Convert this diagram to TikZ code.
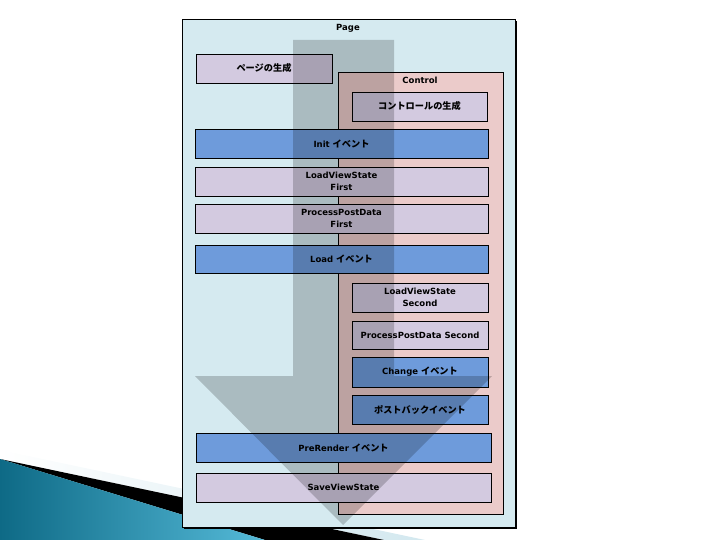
\documentclass[tikz,border=0pt]{standalone}
\usepackage{fontspec}
\setmainfont{DejaVu Sans}
\newfontfamily\jp{Noto Sans CJK JP}[Scale=1.08]
\usetikzlibrary{shadows}
\definecolor{pagebg}{HTML}{D5EAF0}
\definecolor{ctrlbg}{HTML}{EBCBCA}
\definecolor{lav}{HTML}{D3CAE0}
\definecolor{evblue}{HTML}{6E9BDB}
\definecolor{tealL}{HTML}{0E6A86}
\definecolor{tealR}{HTML}{55BAD8}
\definecolor{pale}{HTML}{D3E8EF}
\begin{document}
\begin{tikzpicture}[x=1pt,y=-1pt,
  txt/.style={font=\fontsize{8.5}{11.5}\selectfont\bfseries, text=black},
  boxbase/.style={draw=black, line width=0.9pt, inner sep=0pt, minimum height=29pt,
    align=center, txt,
    drop shadow={shadow xshift=1pt, shadow yshift=-1pt, opacity=1, fill=black}},
  lavbox/.style={boxbase, fill=lav},
  bluebox/.style={boxbase, fill=evblue},
  container/.style={draw=black, line width=0.8pt, inner sep=0pt},
  flow/.style={fill=black, fill opacity=0.2},
]
\useasboundingbox (0,0) rectangle (720,540);
% decoration
\shade[left color=white, right color=pale] (0,450) -- (425,540) -- (384,540) -- (0,459) -- cycle;
\fill[black] (0,459) -- (384,540) -- (265,540) -- cycle;
\shade[left color=tealL, right color=tealR] (0,459) -- (265,540) -- (0,540) -- cycle;
% page
\node[container, fill=pagebg, minimum width=333pt, minimum height=508pt,
  drop shadow={shadow xshift=1.8pt, shadow yshift=-1.8pt, opacity=1, fill=black}]
  (page) at (348.5,273) {};
\node[txt] (pagelbl) at (348,28) {Page};
\node[container, fill=ctrlbg, minimum width=165pt, minimum height=442pt,
  drop shadow={shadow xshift=1pt, shadow yshift=-1pt, opacity=1, fill=black}]
  (ctrl) at (420.5,293) {};
\node[txt] (ctrllbl) at (420,80) {Control};
% steps
\node[lavbox, minimum width=136pt] (pagegen) at (264,68.5) {{\jp ページの生成}};
\node[lavbox, minimum width=135pt] (ctrlgen) at (419.5,106.5) {{\jp コントロールの生成}};
\node[bluebox, minimum width=293pt] (init) at (341.5,143.5) {Init {\jp イベント}};
\node[lavbox, minimum width=293pt] (lvs1) at (341.5,181.5) {LoadViewState\\First};
\node[lavbox, minimum width=293pt] (ppd1) at (341.5,218.5) {ProcessPostData\\First};
\node[bluebox, minimum width=293pt, minimum height=28pt] (load) at (341.5,259) {Load {\jp イベント}};
\node[lavbox, minimum width=136pt] (lvs2) at (420,297.5) {LoadViewState\\Second};
\node[lavbox, minimum width=136pt, minimum height=28pt] (ppd2) at (420,335) {ProcessPostData Second};
\node[bluebox, minimum width=136pt, minimum height=30pt] (change) at (420,372) {Change {\jp イベント}};
\node[bluebox, minimum width=136pt] (postback) at (420,409.5) {{\jp ポストバックイベント}};
\node[bluebox, minimum width=295pt] (prerender) at (343.5,447.5) {PreRender {\jp イベント}};
\node[lavbox, minimum width=295pt] (save) at (343.5,487.5) {SaveViewState};
% flow arrow
\fill[flow] (293,40) -- (394,40) -- (394,376) -- (492,376) -- (343,525) -- (195,376) -- (293,376) -- cycle;
\end{tikzpicture}
\end{document}
